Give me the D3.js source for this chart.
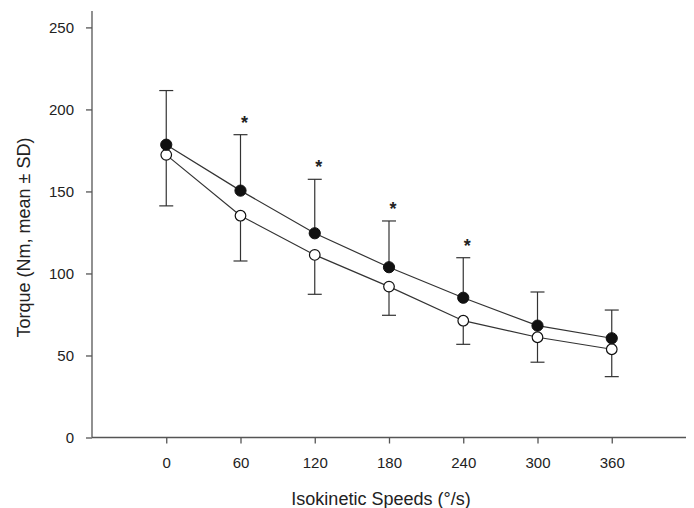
<!DOCTYPE html>
<html><head><meta charset="utf-8">
<script src="https://cdn.jsdelivr.net/npm/d3@7"></script>
<style>body{margin:0;background:#fff}svg{display:block}text{font-family:"Liberation Sans",Arial,sans-serif;fill:#222}</style>
</head><body>
<svg id="c" width="694" height="508"></svg>
<script>
const speeds = [0, 60, 120, 180, 240, 300, 360];
const filledMean = [178.5, 150.5, 124.5, 103.8, 85.2, 68.2, 60.5];
const filledSDUpper = [211.5, 184.6, 157.4, 132, 109.6, 88.7, 77.7];
const openMean = [172.3, 135.2, 111.3, 92, 71.2, 61.1, 53.8];
const openSDLower = [141.2, 107.6, 87.3, 74.5, 56.8, 45.9, 37.1];
const significant = [false, true, true, true, true, false, false];
const yTicks = [0, 50, 100, 150, 200, 250];

const svg = d3.select("#c");
const x = d3.scaleLinear().domain([-60, 420]).range([92, 686]);
const y = d3.scaleLinear().domain([0, 260]).range([437.5, 11]);
const ink = "#333";

// axes
const gx = svg.append("g").attr("transform", `translate(0,${y(0)})`)
  .call(d3.axisBottom(x).tickValues(speeds).tickSize(6).tickPadding(14).tickSizeOuter(0));
const gy = svg.append("g").attr("transform", `translate(${x(-60)},0)`)
  .call(d3.axisLeft(y).tickValues(yTicks).tickSize(6).tickPadding(12).tickSizeOuter(0));
[gx, gy].forEach(g => {
  g.selectAll("path,line").attr("stroke", "#555").attr("stroke-width", 1.3);
  g.selectAll("text").style("font-size", "15px").style("fill", "#222")
    .style("font-family", '"Liberation Sans",Arial,sans-serif');
});
gx.select(".domain").attr("d", `M${x(-60)},0H${x(420)}`);
gy.select(".domain").attr("d", `M0,${y(0)}V${y(260)}`);

// error bars
const cap = 7;
function errBar(v0, v1) {
  speeds.forEach((s, i) => {
    const g = svg.append("g").attr("stroke", ink).attr("stroke-width", 1.2);
    g.append("line").attr("x1", x(s)).attr("x2", x(s)).attr("y1", y(v0[i])).attr("y2", y(v1[i]));
    g.append("line").attr("x1", x(s) - cap).attr("x2", x(s) + cap).attr("y1", y(v1[i])).attr("y2", y(v1[i]));
  });
}
errBar(filledMean, filledSDUpper);
errBar(openMean, openSDLower);

// lines
const line = d3.line().x((d, i) => x(speeds[i])).y(d => y(d));
svg.append("path").datum(openMean).attr("d", line).attr("fill", "none").attr("stroke", ink).attr("stroke-width", 1.2);
svg.append("path").datum(filledMean).attr("d", line).attr("fill", "none").attr("stroke", ink).attr("stroke-width", 1.2);

// markers
svg.append("g").selectAll("circle").data(openMean).join("circle")
  .attr("cx", (d, i) => x(speeds[i])).attr("cy", d => y(d)).attr("r", 5.3)
  .attr("fill", "#fff").attr("stroke", "#111").attr("stroke-width", 1.2);
svg.append("g").selectAll("circle").data(filledMean).join("circle")
  .attr("cx", (d, i) => x(speeds[i])).attr("cy", d => y(d)).attr("r", 5.6)
  .attr("fill", "#111").attr("stroke", "#111").attr("stroke-width", 1);

// asterisks
speeds.forEach((s, i) => {
  if (!significant[i]) return;
  svg.append("text").attr("x", x(s) + 4).attr("y", y(filledSDUpper[i]) - 6)
    .attr("text-anchor", "middle").style("font-size", "18px").style("font-weight", "bold").text("*");
});

// titles
svg.append("text").attr("x", 381).attr("y", 505).attr("text-anchor", "middle")
  .style("font-size", "18px").text("Isokinetic Speeds (°/s)");
svg.append("text").attr("transform", `translate(30,237.5) rotate(-90)`).attr("text-anchor", "middle")
  .style("font-size", "18px").text("Torque (Nm, mean ± SD)");
</script>
</body></html>
